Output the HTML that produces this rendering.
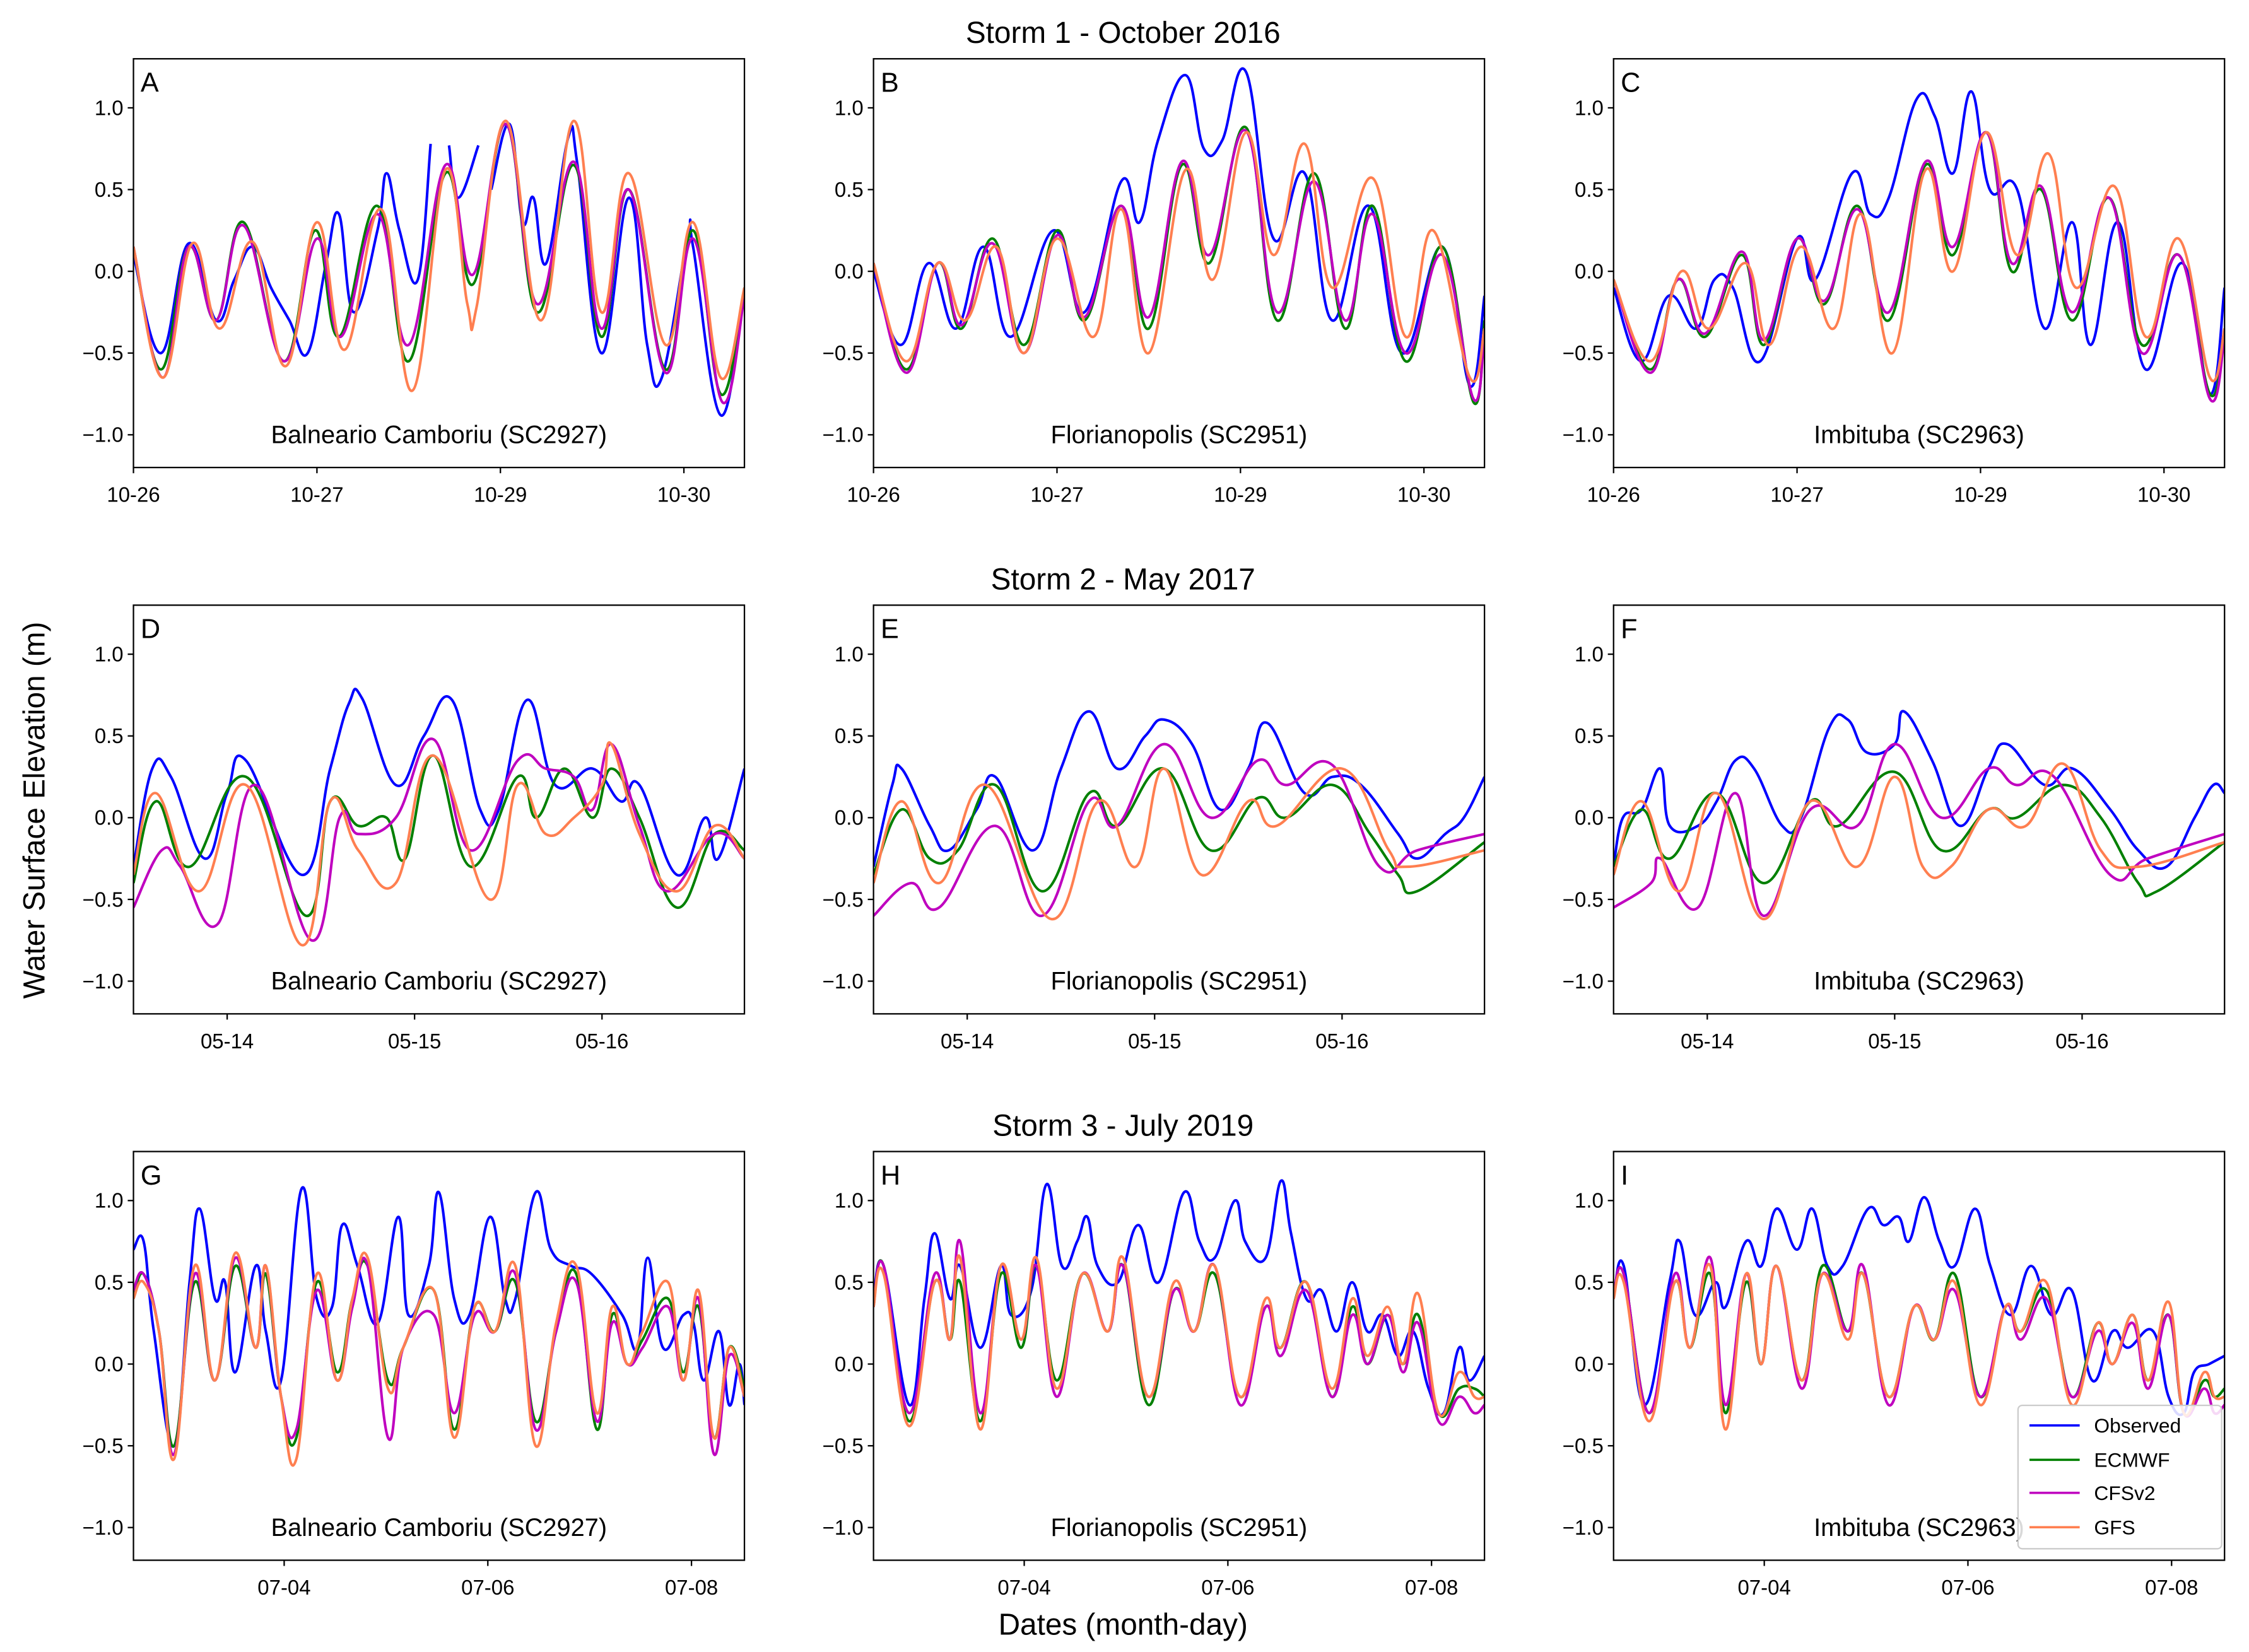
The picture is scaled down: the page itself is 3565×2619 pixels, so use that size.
<!DOCTYPE html>
<html><head><meta charset="utf-8">
<style>
html,body{margin:0;padding:0;background:#fff;}
svg{display:block;font-family:"Liberation Sans",sans-serif;}
</style></head>
<body>
<svg id="fig" width="3565" height="2619" viewBox="0 0 1568 1152" xmlns="http://www.w3.org/2000/svg">
<rect x="0" y="0" width="1568" height="1152" fill="#fff"/>
<text x="783" y="30" font-size="21" text-anchor="middle">Storm 1 - October 2016</text>
<text x="783" y="411" font-size="21" text-anchor="middle">Storm 2 - May 2017</text>
<text x="783" y="792" font-size="21" text-anchor="middle">Storm 3 - July 2019</text>
<text x="0" y="0" font-size="21" text-anchor="middle" transform="translate(31,565) rotate(-90)">Water Surface Elevation (m)</text>
<text x="783" y="1140" font-size="21" text-anchor="middle">Dates (month-day)</text>
<g id="panels"></g>
<g>
<rect x="1407" y="980" width="142" height="100" fill="#fff" fill-opacity="0.85" stroke="#ccc" rx="3"/>
<line x1="1415" y1="994" x2="1450" y2="994" stroke="#0000ff" stroke-width="1.6"/><text x="1460" y="999" font-size="14">Observed</text>
<line x1="1415" y1="1018" x2="1450" y2="1018" stroke="#008000" stroke-width="1.6"/><text x="1460" y="1023" font-size="14">ECMWF</text>
<line x1="1415" y1="1041" x2="1450" y2="1041" stroke="#bf00bf" stroke-width="1.6"/><text x="1460" y="1046" font-size="14">CFSv2</text>
<line x1="1415" y1="1065" x2="1450" y2="1065" stroke="#ff7f50" stroke-width="1.6"/><text x="1460" y="1070" font-size="14">GFS</text>
</g>
</svg>
<script>
// ---- data: [time (days from panel start), water level (m)] ----
const A_obs=[[0,0.1],[0.15,-0.5],[0.3,0.17],[0.45,-0.3],[0.55,-0.05],[0.65,0.15],[0.75,-0.1],[0.85,-0.3],[0.95,-0.5],[1.05,0.05],[1.12,0.35],[1.2,-0.25],[1.33,0.25],[1.38,0.6],[1.45,0.25],[1.55,-0.05],[1.62,0.78],null,[1.72,0.77],[1.77,0.45],[1.88,0.77],null,[1.95,0.5],[2.05,0.9],[2.12,0.3],[2.18,0.45],[2.25,0.05],[2.37,0.82],[2.42,0.65],[2.55,-0.5],[2.7,0.45],[2.8,-0.45],[2.88,-0.65],[3.02,0.2],[3.05,0.15],[3.2,-0.88],[3.33,-0.1]];
const A_ecm=[[0,0.15],[0.15,-0.6],[0.3,0.15],[0.45,-0.3],[0.6,0.3],[0.82,-0.55],[0.99,0.25],[1.12,-0.4],[1.33,0.4],[1.5,-0.55],[1.7,0.6],[1.85,-0.08],[2.03,0.9],[2.2,-0.25],[2.4,0.65],[2.55,-0.4],[2.7,0.5],[2.9,-0.6],[3.05,0.25],[3.2,-0.75],[3.33,-0.1]];
const A_cfs=[[0,0.15],[0.16,-0.65],[0.3,0.15],[0.45,-0.3],[0.6,0.28],[0.82,-0.55],[1.0,0.2],[1.13,-0.4],[1.33,0.35],[1.5,-0.45],[1.7,0.65],[1.85,-0.02],[2.03,0.9],[2.2,-0.2],[2.4,0.67],[2.55,-0.35],[2.7,0.5],[2.9,-0.62],[3.05,0.2],[3.21,-0.8],[3.33,-0.15]];
const A_gfs=[[0,0.15],[0.16,-0.65],[0.32,0.17],[0.47,-0.35],[0.65,0.18],[0.83,-0.58],[1.0,0.3],[1.15,-0.48],[1.35,0.38],[1.52,-0.73],[1.7,0.62],[1.82,-0.2],[1.87,-0.22],[2.03,0.92],[2.22,-0.3],[2.4,0.92],[2.55,-0.25],[2.7,0.6],[2.9,-0.45],[3.05,0.3],[3.2,-0.65],[3.33,-0.1]];
const B_obs=[[0,0],[0.15,-0.45],[0.3,0.05],[0.45,-0.35],[0.6,0.15],[0.75,-0.4],[0.98,0.25],[1.15,-0.25],[1.35,0.55],[1.45,0.3],[1.55,0.8],[1.7,1.2],[1.8,0.75],[1.9,0.8],[2.03,1.22],[2.18,0.2],[2.35,0.6],[2.5,-0.3],[2.7,0.4],[2.88,-0.5],[3.1,0.15],[3.25,-0.7],[3.33,-0.15]];
const B_ecm=[[0,0.05],[0.18,-0.6],[0.35,0.05],[0.48,-0.35],[0.65,0.2],[0.82,-0.45],[1.0,0.25],[1.15,-0.3],[1.35,0.4],[1.5,-0.35],[1.68,0.65],[1.83,0.05],[2.03,0.88],[2.2,-0.3],[2.4,0.6],[2.57,-0.35],[2.72,0.4],[2.9,-0.55],[3.1,0.15],[3.27,-0.8],[3.33,-0.3]];
const B_cfs=[[0,0.05],[0.18,-0.62],[0.35,0.05],[0.48,-0.33],[0.65,0.17],[0.82,-0.5],[1.0,0.22],[1.15,-0.28],[1.35,0.4],[1.5,-0.28],[1.68,0.67],[1.83,0.1],[2.03,0.86],[2.2,-0.25],[2.4,0.55],[2.57,-0.3],[2.72,0.35],[2.9,-0.5],[3.1,0.1],[3.27,-0.78],[3.33,-0.35]];
const B_gfs=[[0,0.05],[0.18,-0.55],[0.35,0.05],[0.5,-0.3],[0.67,0.15],[0.82,-0.5],[1.0,0.2],[1.2,-0.4],[1.35,0.38],[1.5,-0.5],[1.7,0.62],[1.85,-0.05],[2.03,0.85],[2.18,0.1],[2.35,0.78],[2.5,-0.1],[2.72,0.57],[2.9,-0.4],[3.05,0.25],[3.25,-0.65],[3.33,-0.35]];
const C_obs=[[0,-0.1],[0.15,-0.55],[0.3,-0.15],[0.45,-0.35],[0.55,-0.05],[0.65,-0.1],[0.8,-0.55],[1.0,0.2],[1.1,-0.05],[1.3,0.6],[1.4,0.35],[1.5,0.45],[1.65,1.05],[1.75,0.95],[1.85,0.6],[1.95,1.1],[2.05,0.5],[2.2,0.5],[2.35,-0.35],[2.5,0.3],[2.6,-0.45],[2.75,0.3],[2.9,-0.6],[3.1,0.05],[3.25,-0.75],[3.33,-0.1]];
const C_ecm=[[0,-0.05],[0.2,-0.6],[0.35,-0.05],[0.5,-0.4],[0.7,0.1],[0.82,-0.45],[1.0,0.2],[1.15,-0.2],[1.33,0.4],[1.5,-0.3],[1.7,0.65],[1.85,0.1],[2.03,0.85],[2.17,0.0],[2.33,0.5],[2.5,-0.3],[2.7,0.45],[2.88,-0.45],[3.08,0.1],[3.25,-0.75],[3.33,-0.35]];
const C_cfs=[[0,-0.05],[0.2,-0.62],[0.35,-0.05],[0.5,-0.38],[0.7,0.12],[0.82,-0.42],[1.0,0.2],[1.15,-0.18],[1.33,0.38],[1.5,-0.25],[1.7,0.67],[1.85,0.15],[2.03,0.85],[2.17,0.05],[2.33,0.52],[2.5,-0.25],[2.7,0.45],[2.88,-0.5],[3.08,0.1],[3.25,-0.78],[3.33,-0.4]];
const C_gfs=[[0,-0.05],[0.2,-0.55],[0.37,0.0],[0.52,-0.35],[0.72,0.05],[0.85,-0.45],[1.02,0.15],[1.2,-0.35],[1.35,0.35],[1.52,-0.5],[1.7,0.62],[1.85,0.0],[2.03,0.85],[2.2,0.1],[2.37,0.72],[2.52,-0.1],[2.73,0.52],[2.9,-0.4],[3.08,0.2],[3.25,-0.65],[3.33,-0.35]];
const D_obs=[[0,-0.3],[0.1,0.3],[0.2,0.25],[0.38,-0.25],[0.5,0.15],[0.6,0.35],[0.9,-0.35],[1.05,0.3],[1.15,0.7],[1.22,0.73],[1.4,0.2],[1.55,0.5],[1.7,0.72],[1.85,0.05],[1.95,0.05],[2.1,0.72],[2.25,0.2],[2.45,0.3],[2.6,0.1],[2.7,0.2],[2.9,-0.35],[3.05,0.0],[3.12,-0.25],[3.26,0.3]];
const D_ecm=[[0,-0.4],[0.12,0.1],[0.3,-0.3],[0.6,0.25],[0.92,-0.6],[1.05,0.1],[1.2,-0.05],[1.35,0.0],[1.45,-0.25],[1.6,0.38],[1.8,-0.3],[2.05,0.25],[2.15,0.0],[2.3,0.3],[2.45,0.0],[2.55,0.3],[2.7,0.0],[2.9,-0.55],[3.1,-0.1],[3.26,-0.2]];
const D_cfs=[[0,-0.55],[0.15,-0.2],[0.25,-0.3],[0.45,-0.65],[0.65,0.2],[0.95,-0.75],[1.1,0.0],[1.2,-0.1],[1.4,0.0],[1.6,0.48],[1.8,-0.2],[2.05,0.35],[2.2,0.3],[2.35,0.25],[2.45,0.05],[2.55,0.45],[2.7,-0.05],[2.85,-0.45],[3.1,-0.1],[3.26,-0.25]];
const D_gfs=[[0,-0.35],[0.12,0.15],[0.35,-0.45],[0.6,0.2],[0.9,-0.78],[1.05,0.1],[1.2,-0.2],[1.4,-0.4],[1.6,0.38],[1.9,-0.5],[2.05,0.2],[2.2,-0.1],[2.35,0.0],[2.5,0.2],[2.55,0.45],[2.7,-0.1],[2.9,-0.45],[3.1,-0.05],[3.26,-0.25]];
const E_obs=[[0,-0.3],[0.1,0.2],[0.15,0.3],[0.3,-0.05],[0.4,-0.2],[0.55,0.05],[0.65,0.25],[0.85,-0.2],[1.0,0.3],[1.15,0.65],[1.3,0.3],[1.45,0.5],[1.55,0.6],[1.7,0.45],[1.85,0.05],[2.0,0.3],[2.1,0.58],[2.3,0.15],[2.45,0.25],[2.6,0.2],[2.8,-0.1],[2.9,-0.25],[3.05,-0.1],[3.15,0.0],[3.26,0.25]];
const E_ecm=[[0,-0.35],[0.15,0.05],[0.3,-0.25],[0.45,-0.2],[0.65,0.2],[0.9,-0.45],[1.15,0.15],[1.3,-0.05],[1.55,0.3],[1.8,-0.2],[2.05,0.12],[2.2,0.0],[2.45,0.2],[2.65,-0.1],[2.8,-0.35],[2.9,-0.45],[3.26,-0.15]];
const E_cfs=[[0,-0.6],[0.2,-0.4],[0.35,-0.55],[0.65,-0.05],[0.9,-0.6],[1.15,0.1],[1.3,-0.05],[1.55,0.45],[1.8,0.0],[2.05,0.35],[2.2,0.2],[2.45,0.32],[2.7,-0.3],[2.9,-0.2],[3.26,-0.1]];
const E_gfs=[[0,-0.4],[0.15,0.1],[0.35,-0.4],[0.6,0.2],[0.95,-0.62],[1.2,0.1],[1.4,-0.3],[1.55,0.3],[1.75,-0.35],[2.0,0.1],[2.15,-0.05],[2.5,0.3],[2.75,-0.2],[2.85,-0.3],[3.26,-0.2]];
const F_obs=[[0,-0.3],[0.05,0.0],[0.15,0.05],[0.25,0.3],[0.3,-0.05],[0.45,-0.05],[0.55,0.1],[0.65,0.35],[0.75,0.3],[0.9,-0.05],[1.0,0.0],[1.15,0.55],[1.25,0.6],[1.35,0.4],[1.5,0.45],[1.55,0.65],[1.7,0.35],[1.85,-0.05],[2.0,0.3],[2.1,0.45],[2.3,0.2],[2.45,0.3],[2.65,0.05],[2.8,-0.2],[2.95,-0.3],[3.1,0.0],[3.2,0.2],[3.26,0.15]];
const F_ecm=[[0,-0.3],[0.15,0.05],[0.3,-0.25],[0.55,0.15],[0.8,-0.4],[1.05,0.1],[1.2,-0.05],[1.5,0.28],[1.75,-0.2],[2.0,0.05],[2.15,0.0],[2.4,0.2],[2.6,0.0],[2.8,-0.4],[2.9,-0.45],[3.26,-0.15]];
const F_cfs=[[0,-0.55],[0.2,-0.4],[0.25,-0.25],[0.45,-0.55],[0.65,0.15],[0.8,-0.6],[1.05,0.05],[1.3,-0.05],[1.5,0.45],[1.75,0.0],[2.0,0.3],[2.15,0.2],[2.35,0.25],[2.65,-0.35],[2.85,-0.25],[3.26,-0.1]];
const F_gfs=[[0,-0.35],[0.15,0.1],[0.35,-0.45],[0.55,0.15],[0.8,-0.62],[1.05,0.1],[1.3,-0.3],[1.5,0.25],[1.65,-0.3],[1.8,-0.3],[2.0,0.05],[2.2,-0.05],[2.4,0.33],[2.6,-0.2],[2.8,-0.3],[3.26,-0.15]];
const G_obs=[[0,0.7],[0.1,0.75],[0.2,0.2],[0.4,-0.5],[0.55,0.5],[0.65,0.95],[0.8,0.4],[0.9,0.5],[1.0,-0.05],[1.2,0.6],[1.3,0.2],[1.45,-0.1],[1.65,1.07],[1.8,0.4],[1.95,0.35],[2.05,0.85],[2.2,0.6],[2.4,0.25],[2.6,0.9],[2.7,0.3],[2.9,0.6],[3.0,1.05],[3.15,0.4],[3.3,0.3],[3.5,0.9],[3.65,0.4],[3.75,0.4],[3.95,1.05],[4.1,0.7],[4.3,0.6],[4.5,0.55],[4.8,0.3],[4.95,0.1],[5.05,0.65],[5.2,0.1],[5.4,0.3],[5.5,0.25],[5.6,-0.1],[5.75,0.2],[5.85,-0.25],[5.95,0.0],[6.0,-0.25]];
const G_ecm=[[0,0.4],[0.1,0.55],[0.25,0.2],[0.4,-0.5],[0.6,0.5],[0.8,-0.1],[1.0,0.6],[1.2,0.1],[1.3,0.55],[1.45,-0.2],[1.6,-0.45],[1.8,0.5],[2.0,-0.05],[2.15,0.4],[2.3,0.6],[2.5,-0.1],[2.65,0.1],[2.95,0.45],[3.15,-0.4],[3.35,0.35],[3.55,0.2],[3.75,0.5],[3.95,-0.35],[4.15,0.2],[4.35,0.55],[4.55,-0.4],[4.7,0.3],[4.85,0.0],[5.0,0.15],[5.25,0.4],[5.4,-0.05],[5.55,0.35],[5.7,-0.45],[5.85,0.1],[6.0,-0.15]];
const G_cfs=[[0,0.45],[0.1,0.55],[0.25,0.2],[0.4,-0.55],[0.6,0.55],[0.8,-0.1],[1.0,0.65],[1.2,0.1],[1.3,0.6],[1.45,-0.2],[1.6,-0.4],[1.8,0.45],[2.0,-0.1],[2.15,0.35],[2.3,0.6],[2.5,-0.45],[2.65,0.1],[2.95,0.3],[3.15,-0.3],[3.35,0.3],[3.55,0.2],[3.75,0.55],[3.95,-0.4],[4.15,0.2],[4.35,0.5],[4.55,-0.35],[4.7,0.25],[4.85,0.0],[5.0,0.1],[5.25,0.35],[5.4,-0.1],[5.55,0.4],[5.7,-0.55],[5.85,0.05],[6.0,-0.2]];
const G_gfs=[[0,0.4],[0.1,0.5],[0.25,0.2],[0.4,-0.58],[0.6,0.6],[0.8,-0.1],[1.0,0.68],[1.2,0.1],[1.3,0.6],[1.45,-0.2],[1.6,-0.58],[1.8,0.55],[2.0,-0.1],[2.15,0.4],[2.3,0.65],[2.5,-0.15],[2.65,0.1],[2.95,0.45],[3.15,-0.45],[3.35,0.35],[3.55,0.2],[3.75,0.6],[3.95,-0.5],[4.15,0.25],[4.35,0.6],[4.55,-0.3],[4.7,0.35],[4.85,0.0],[5.0,0.2],[5.25,0.5],[5.4,-0.1],[5.55,0.45],[5.7,-0.45],[5.85,0.1],[6.0,-0.2]];
const H_obs=[[0,0.4],[0.1,0.6],[0.35,-0.25],[0.5,0.4],[0.6,0.8],[0.75,0.4],[0.85,0.6],[1.05,0.1],[1.25,0.6],[1.35,0.3],[1.55,0.45],[1.7,1.1],[1.85,0.6],[2.0,0.75],[2.1,0.9],[2.2,0.6],[2.4,0.5],[2.6,0.85],[2.8,0.5],[3.05,1.05],[3.2,0.75],[3.35,0.65],[3.55,1.0],[3.65,0.75],[3.85,0.65],[4.0,1.12],[4.1,0.8],[4.25,0.4],[4.4,0.45],[4.55,0.2],[4.7,0.5],[4.85,0.2],[5.0,0.3],[5.15,0.05],[5.3,0.2],[5.45,-0.15],[5.6,-0.3],[5.75,0.1],[5.85,-0.1],[6.0,0.05]];
const H_ecm=[[0,0.35],[0.1,0.6],[0.35,-0.35],[0.6,0.5],[0.75,0.15],[0.85,0.5],[1.05,-0.35],[1.25,0.55],[1.45,0.1],[1.6,0.6],[1.8,-0.1],[2.05,0.55],[2.3,0.2],[2.45,0.6],[2.7,-0.25],[2.95,0.45],[3.15,0.2],[3.35,0.55],[3.6,-0.2],[3.85,0.35],[4.0,0.1],[4.25,0.5],[4.5,-0.2],[4.7,0.35],[4.85,0.0],[5.05,0.3],[5.2,0.0],[5.35,0.3],[5.55,-0.3],[5.75,-0.15],[5.9,-0.15],[6.0,-0.2]];
const H_cfs=[[0,0.35],[0.1,0.6],[0.35,-0.3],[0.6,0.55],[0.75,0.15],[0.85,0.75],[1.05,-0.3],[1.25,0.6],[1.45,0.15],[1.6,0.6],[1.8,-0.2],[2.05,0.55],[2.3,0.2],[2.45,0.6],[2.7,-0.2],[2.95,0.45],[3.15,0.2],[3.35,0.6],[3.6,-0.25],[3.85,0.35],[4.0,0.05],[4.25,0.45],[4.5,-0.2],[4.7,0.3],[4.85,0.0],[5.05,0.3],[5.2,-0.05],[5.35,0.25],[5.55,-0.35],[5.75,-0.2],[5.9,-0.3],[6.0,-0.25]];
const H_gfs=[[0,0.35],[0.1,0.55],[0.35,-0.38],[0.6,0.5],[0.75,0.15],[0.85,0.65],[1.05,-0.4],[1.25,0.6],[1.45,0.15],[1.6,0.65],[1.8,-0.15],[2.05,0.55],[2.3,0.2],[2.45,0.65],[2.7,-0.2],[2.95,0.5],[3.15,0.2],[3.35,0.6],[3.6,-0.2],[3.85,0.4],[4.0,0.1],[4.25,0.5],[4.5,-0.15],[4.7,0.4],[4.85,0.05],[5.05,0.35],[5.2,0.0],[5.35,0.43],[5.55,-0.3],[5.75,-0.05],[5.9,-0.2],[6.0,-0.2]];
const I_obs=[[0,0.4],[0.1,0.6],[0.3,-0.25],[0.55,0.5],[0.65,0.75],[0.8,0.3],[1.0,0.5],[1.1,0.35],[1.3,0.75],[1.45,0.6],[1.6,0.95],[1.8,0.7],[1.95,0.95],[2.1,0.6],[2.25,0.6],[2.5,0.95],[2.65,0.85],[2.8,0.9],[2.9,0.75],[3.05,1.02],[3.2,0.75],[3.35,0.6],[3.55,0.95],[3.7,0.6],[3.9,0.3],[4.1,0.6],[4.3,0.3],[4.5,0.45],[4.7,-0.1],[4.9,0.2],[5.05,0.1],[5.3,0.2],[5.45,-0.2],[5.6,-0.3],[5.7,-0.05],[5.85,0.0],[6.0,0.05]];
const I_ecm=[[0,0.4],[0.1,0.55],[0.35,-0.3],[0.6,0.5],[0.75,0.1],[0.95,0.55],[1.1,-0.3],[1.3,0.5],[1.45,0.0],[1.6,0.6],[1.85,-0.1],[2.05,0.6],[2.3,0.2],[2.45,0.55],[2.7,-0.2],[2.95,0.35],[3.15,0.15],[3.35,0.55],[3.6,-0.2],[3.85,0.35],[4.0,0.2],[4.25,0.45],[4.5,-0.2],[4.75,0.25],[4.9,0.0],[5.1,0.3],[5.25,-0.1],[5.45,0.3],[5.6,-0.3],[5.8,-0.1],[5.9,-0.2],[6.0,-0.15]];
const I_cfs=[[0,0.4],[0.1,0.55],[0.35,-0.3],[0.6,0.55],[0.75,0.1],[0.95,0.65],[1.1,-0.25],[1.3,0.55],[1.45,0.0],[1.6,0.6],[1.85,-0.15],[2.05,0.55],[2.3,0.2],[2.45,0.6],[2.7,-0.25],[2.95,0.35],[3.15,0.15],[3.35,0.45],[3.6,-0.2],[3.85,0.35],[4.0,0.15],[4.25,0.4],[4.5,-0.2],[4.75,0.2],[4.9,0.0],[5.1,0.25],[5.25,-0.15],[5.45,0.3],[5.6,-0.3],[5.8,-0.15],[5.9,-0.3],[6.0,-0.25]];
const I_gfs=[[0,0.4],[0.1,0.5],[0.35,-0.35],[0.6,0.5],[0.75,0.1],[0.95,0.6],[1.1,-0.4],[1.3,0.55],[1.45,0.0],[1.6,0.6],[1.85,-0.1],[2.05,0.55],[2.3,0.15],[2.45,0.55],[2.7,-0.2],[2.95,0.35],[3.15,0.15],[3.35,0.5],[3.6,-0.25],[3.85,0.35],[4.0,0.2],[4.25,0.5],[4.5,-0.25],[4.75,0.25],[4.9,0.0],[5.1,0.3],[5.25,-0.1],[5.45,0.38],[5.6,-0.3],[5.8,-0.05],[5.9,-0.2],[6.0,-0.2]];
// tick positions (days from panel start) and labels per storm row
const row1TickDays=[0,1,2,3];
const row1TickLabels=["10-26","10-27","10-29","10-30"];
const row2TickDays=[0.5,1.5,2.5];
const row2TickLabels=["05-14","05-15","05-16"];
const row3TickDays=[1.48,3.48,5.48];
const row3TickLabels=["07-04","07-06","07-08"];
const yTicks=[-1.0,-0.5,0.0,0.5,1.0];
const seriesNames=["Observed","ECMWF","CFSv2","GFS"];
const seriesColors=["#0000ff","#008000","#bf00bf","#ff7f50"];

const NS="http://www.w3.org/2000/svg";
const root=document.getElementById('panels');
function mk(tag,attrs,parent){const e=document.createElementNS(NS,tag);for(const k in attrs)e.setAttribute(k,attrs[k]);parent.appendChild(e);return e;}
function smooth(pts){
  if(pts.length<2)return '';
  let d='M'+pts[0][0].toFixed(1)+','+pts[0][1].toFixed(1);
  for(let i=0;i<pts.length-1;i++){
    const p0=pts[i-1]||pts[i],p1=pts[i],p2=pts[i+1],p3=pts[i+2]||p2;
    const k=0.2;
    const c1x=p1[0]+(p2[0]-p0[0])*k,c1y=p1[1]+(p2[1]-p0[1])*k;
    const c2x=p2[0]-(p3[0]-p1[0])*k,c2y=p2[1]-(p3[1]-p1[1])*k;
    d+='C'+c1x.toFixed(1)+','+c1y.toFixed(1)+' '+c2x.toFixed(1)+','+c2y.toFixed(1)+' '+p2[0].toFixed(1)+','+p2[1].toFixed(1);
  }
  return d;
}
const cols=[93,609,1125], W=426;
const rows=[{top:41,days:3.33,ticks:row1TickDays,labels:row1TickLabels},{top:422,days:3.26,ticks:row2TickDays,labels:row2TickLabels},{top:803,days:6.0,ticks:row3TickDays,labels:row3TickLabels}];
const H=285, yMin=-1.2, yMax=1.3;
const letters=["A","B","C","D","E","F","G","H","I"];
const stations=["Balneario Camboriu (SC2927)","Florianopolis (SC2951)","Imbituba (SC2963)"];
const data=[[A_obs,A_ecm,A_cfs,A_gfs],[B_obs,B_ecm,B_cfs,B_gfs],[C_obs,C_ecm,C_cfs,C_gfs],[D_obs,D_ecm,D_cfs,D_gfs],[E_obs,E_ecm,E_cfs,E_gfs],[F_obs,F_ecm,F_cfs,F_gfs],[G_obs,G_ecm,G_cfs,G_gfs],[H_obs,H_ecm,H_cfs,H_gfs],[I_obs,I_ecm,I_cfs,I_gfs]];
for(let r=0;r<3;r++)for(let c=0;c<3;c++){
  const idx=r*3+c, L=cols[c], T=rows[r].top, R=rows[r];
  const xs=d=>L+d/R.days*W, ys=v=>T+(yMax-v)/(yMax-yMin)*H;
  const g=mk('g',{},root);
  
  
  const cp=mk('clipPath',{id:'cp'+idx},g);
  mk('rect',{x:L,y:T,width:W,height:H},cp);
  const lg=mk('g',{'clip-path':'url(#cp'+idx+')'},g);
  data[idx].forEach((s,si)=>{
    let d='',seg=[];
    s.forEach(p=>{if(!p){d+=smooth(seg);seg=[];return;}seg.push([xs(p[0]),ys(p[1])]);});
    d+=smooth(seg);
    const path=mk('path',{d:d,fill:'none',stroke:seriesColors[si],'stroke-width':1.8,'stroke-linejoin':'round'},lg);
    
    
  });
  mk('rect',{x:L,y:T,width:W,height:H,fill:'none',stroke:'#000','stroke-width':1},g);
  yTicks.forEach(v=>{
    const y=ys(v);
    mk('line',{x1:L-4,y1:y,x2:L,y2:y,stroke:'#000','stroke-width':1},g);
    const t=mk('text',{x:L-7,y:y+5,'font-size':14.5,'text-anchor':'end'},g);
    t.textContent=(v<0?'\u2212':'')+Math.abs(v).toFixed(1);
    
    
  });
  R.ticks.forEach((d,i)=>{
    const x=xs(d);
    mk('line',{x1:x,y1:T+H,x2:x,y2:T+H+4,stroke:'#000','stroke-width':1},g);
    const t=mk('text',{x:x,y:T+H+24,'font-size':14.5,'text-anchor':'middle'},g);
    t.textContent=R.labels[i];
    
    
  });
  const lt=mk('text',{x:L+5,y:T+23,'font-size':19},g);
  lt.textContent=letters[idx];
  
  
  const st=mk('text',{x:L+W/2,y:T+H-17,'font-size':17.5,'text-anchor':'middle'},g);
  st.textContent=stations[c];
  
  
}
</script>
</body></html>
